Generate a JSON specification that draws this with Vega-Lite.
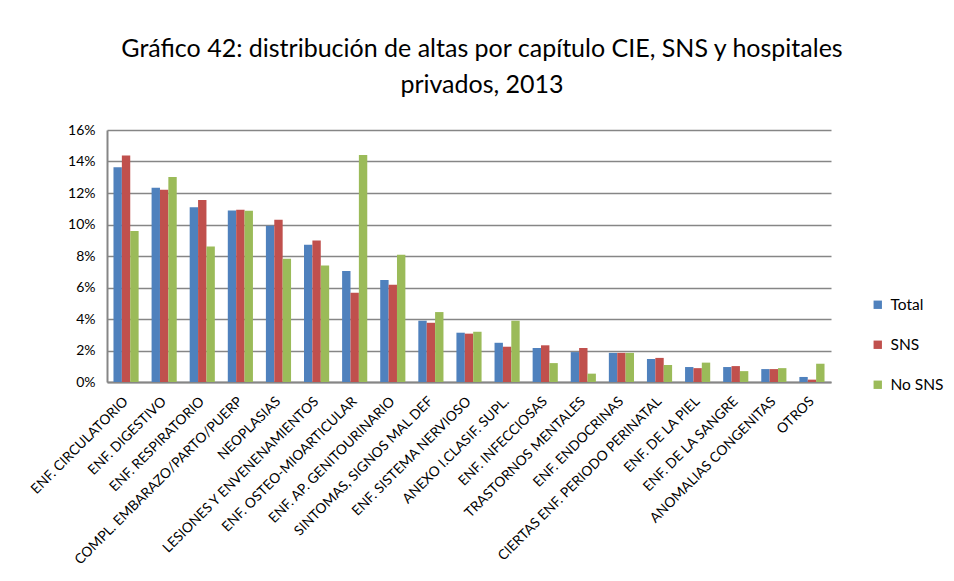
{
  "$schema": "https://vega.github.io/schema/vega-lite/v6.json",
  "width": 724,
  "height": 252,
  "autosize": {"type": "none"},
  "padding": {"left": 107, "top": 130, "right": 123, "bottom": 199},
  "background": "white",
  "title": {
    "text": ["Gráfico 42: distribución de altas por capítulo CIE, SNS y hospitales", "privados, 2013"],
    "anchor": "middle",
    "frame": "group",
    "dx": 13,
    "offset": 25,
    "font": "Lato",
    "fontSize": 25,
    "fontWeight": "normal",
    "lineHeight": 36,
    "color": "#000000"
  },
  "data": {
    "values": [
      {"capitulo": "ENF. CIRCULATORIO", "serie": "Total", "pct": 0.1364},
      {"capitulo": "ENF. CIRCULATORIO", "serie": "SNS", "pct": 0.1438},
      {"capitulo": "ENF. CIRCULATORIO", "serie": "No SNS", "pct": 0.0958},
      {"capitulo": "ENF. DIGESTIVO", "serie": "Total", "pct": 0.1233},
      {"capitulo": "ENF. DIGESTIVO", "serie": "SNS", "pct": 0.1220},
      {"capitulo": "ENF. DIGESTIVO", "serie": "No SNS", "pct": 0.1302},
      {"capitulo": "ENF. RESPIRATORIO", "serie": "Total", "pct": 0.1110},
      {"capitulo": "ENF. RESPIRATORIO", "serie": "SNS", "pct": 0.1156},
      {"capitulo": "ENF. RESPIRATORIO", "serie": "No SNS", "pct": 0.0860},
      {"capitulo": "COMPL. EMBARAZO/PARTO/PUERP", "serie": "Total", "pct": 0.1089},
      {"capitulo": "COMPL. EMBARAZO/PARTO/PUERP", "serie": "SNS", "pct": 0.1093},
      {"capitulo": "COMPL. EMBARAZO/PARTO/PUERP", "serie": "No SNS", "pct": 0.1087},
      {"capitulo": "NEOPLASIAS", "serie": "Total", "pct": 0.0992},
      {"capitulo": "NEOPLASIAS", "serie": "SNS", "pct": 0.1030},
      {"capitulo": "NEOPLASIAS", "serie": "No SNS", "pct": 0.0782},
      {"capitulo": "LESIONES Y ENVENENAMIENTOS", "serie": "Total", "pct": 0.0871},
      {"capitulo": "LESIONES Y ENVENENAMIENTOS", "serie": "SNS", "pct": 0.0898},
      {"capitulo": "LESIONES Y ENVENENAMIENTOS", "serie": "No SNS", "pct": 0.0740},
      {"capitulo": "ENF. OSTEO-MIOARTICULAR", "serie": "Total", "pct": 0.0704},
      {"capitulo": "ENF. OSTEO-MIOARTICULAR", "serie": "SNS", "pct": 0.0567},
      {"capitulo": "ENF. OSTEO-MIOARTICULAR", "serie": "No SNS", "pct": 0.1442},
      {"capitulo": "ENF. AP. GENITOURINARIO", "serie": "Total", "pct": 0.0647},
      {"capitulo": "ENF. AP. GENITOURINARIO", "serie": "SNS", "pct": 0.0617},
      {"capitulo": "ENF. AP. GENITOURINARIO", "serie": "No SNS", "pct": 0.0808},
      {"capitulo": "SINTOMAS, SIGNOS MAL DEF", "serie": "Total", "pct": 0.0389},
      {"capitulo": "SINTOMAS, SIGNOS MAL DEF", "serie": "SNS", "pct": 0.0376},
      {"capitulo": "SINTOMAS, SIGNOS MAL DEF", "serie": "No SNS", "pct": 0.0444},
      {"capitulo": "ENF. SISTEMA NERVIOSO", "serie": "Total", "pct": 0.0313},
      {"capitulo": "ENF. SISTEMA NERVIOSO", "serie": "SNS", "pct": 0.0307},
      {"capitulo": "ENF. SISTEMA NERVIOSO", "serie": "No SNS", "pct": 0.0319},
      {"capitulo": "ANEXO I.CLASIF. SUPL.", "serie": "Total", "pct": 0.0249},
      {"capitulo": "ANEXO I.CLASIF. SUPL.", "serie": "SNS", "pct": 0.0224},
      {"capitulo": "ANEXO I.CLASIF. SUPL.", "serie": "No SNS", "pct": 0.0389},
      {"capitulo": "ENF. INFECCIOSAS", "serie": "Total", "pct": 0.0216},
      {"capitulo": "ENF. INFECCIOSAS", "serie": "SNS", "pct": 0.0233},
      {"capitulo": "ENF. INFECCIOSAS", "serie": "No SNS", "pct": 0.0120},
      {"capitulo": "TRASTORNOS MENTALES", "serie": "Total", "pct": 0.0190},
      {"capitulo": "TRASTORNOS MENTALES", "serie": "SNS", "pct": 0.0216},
      {"capitulo": "TRASTORNOS MENTALES", "serie": "No SNS", "pct": 0.0053},
      {"capitulo": "ENF. ENDOCRINAS", "serie": "Total", "pct": 0.0185},
      {"capitulo": "ENF. ENDOCRINAS", "serie": "SNS", "pct": 0.0185},
      {"capitulo": "ENF. ENDOCRINAS", "serie": "No SNS", "pct": 0.0185},
      {"capitulo": "CIERTAS ENF. PERIODO PERINATAL", "serie": "Total", "pct": 0.0146},
      {"capitulo": "CIERTAS ENF. PERIODO PERINATAL", "serie": "SNS", "pct": 0.0153},
      {"capitulo": "CIERTAS ENF. PERIODO PERINATAL", "serie": "No SNS", "pct": 0.0108},
      {"capitulo": "ENF. DE LA PIEL", "serie": "Total", "pct": 0.0095},
      {"capitulo": "ENF. DE LA PIEL", "serie": "SNS", "pct": 0.0088},
      {"capitulo": "ENF. DE LA PIEL", "serie": "No SNS", "pct": 0.0123},
      {"capitulo": "ENF. DE LA SANGRE", "serie": "Total", "pct": 0.0095},
      {"capitulo": "ENF. DE LA SANGRE", "serie": "SNS", "pct": 0.0101},
      {"capitulo": "ENF. DE LA SANGRE", "serie": "No SNS", "pct": 0.0069},
      {"capitulo": "ANOMALIAS CONGENITAS", "serie": "Total", "pct": 0.0082},
      {"capitulo": "ANOMALIAS CONGENITAS", "serie": "SNS", "pct": 0.0082},
      {"capitulo": "ANOMALIAS CONGENITAS", "serie": "No SNS", "pct": 0.0088},
      {"capitulo": "OTROS", "serie": "Total", "pct": 0.0032},
      {"capitulo": "OTROS", "serie": "SNS", "pct": 0.0015},
      {"capitulo": "OTROS", "serie": "No SNS", "pct": 0.0116}
    ]
  },
  "mark": {"type": "bar"},
  "encoding": {
    "x": {
      "field": "capitulo",
      "type": "nominal",
      "sort": null,
      "title": null,
      "scale": {"paddingInner": 0.34, "paddingOuter": 0.17},
      "axis": {
        "labelAngle": -45,
        "labelAlign": "right",
        "labelBaseline": "middle",
        "labelFont": "Lato",
        "labelFontSize": 13.8,
        "labelColor": "#000000",
        "labelPadding": 17,
        "labelLimit": 300,
        "ticks": false,
        "domainColor": "#868686",
        "domainWidth": 2,
        "grid": false
      }
    },
    "xOffset": {
      "field": "serie",
      "type": "nominal",
      "sort": ["Total", "SNS", "No SNS"],
      "scale": {"paddingInner": 0, "paddingOuter": 0}
    },
    "y": {
      "field": "pct",
      "type": "quantitative",
      "title": null,
      "scale": {"domain": [0, 0.16], "nice": false},
      "axis": {
        "format": ".0%",
        "values": [0, 0.02, 0.04, 0.06, 0.08, 0.1, 0.12, 0.14, 0.16],
        "labelFont": "Lato",
        "labelFontSize": 14,
        "labelColor": "#000000",
        "labelPadding": 12,
        "ticks": false,
        "domainColor": "#868686",
        "domainWidth": 2,
        "gridColor": "#868686",
        "gridWidth": 1.6
      }
    },
    "color": {
      "field": "serie",
      "type": "nominal",
      "sort": ["Total", "SNS", "No SNS"],
      "scale": {"domain": ["Total", "SNS", "No SNS"], "range": ["#4F81BD", "#C0504D", "#9BBB59"]},
      "legend": {
        "title": null,
        "orient": "none",
        "legendX": 763,
        "legendY": 167,
        "symbolType": "square",
        "symbolSize": 70,
        "symbolStrokeWidth": 0,
        "labelFont": "Lato",
        "labelFontSize": 15.5,
        "labelColor": "#000000",
        "labelOffset": 5,
        "rowPadding": 23
      }
    }
  },
  "config": {
    "view": {"stroke": null}
  }
}
